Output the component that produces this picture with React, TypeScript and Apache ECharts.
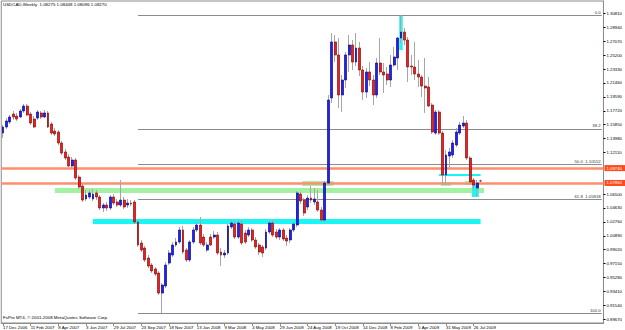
import React, { useEffect, useRef } from "react";
import * as echarts from "echarts";

// ---- weekly USDCAD candles (17 Dec 2006 .. 9 Aug 2009) ----
const opens = [
  1.1472, 1.1553, 1.1621, 1.1728, 1.1701, 1.1688, 1.1769, 1.1836, 1.1728, 1.1661,
  1.1674, 1.1742, 1.1688, 1.1742, 1.1594, 1.1499, 1.1486, 1.1338, 1.1217, 1.1149,
  1.1028, 1.1109, 1.0880, 1.0759, 1.0584, 1.0611, 1.0584, 1.0665, 1.0611, 1.0463,
  1.0503, 1.0463, 1.0611, 1.0544, 1.0503, 1.0570, 1.0503, 1.0530, 1.0544, 1.0274,
  0.9992, 0.9924, 0.9790, 0.9695, 0.9642, 0.9588, 0.9318, 0.9413, 0.9722, 0.9830,
  0.9965, 1.0005, 1.0167, 0.9897, 0.9763, 1.0005, 1.0167, 1.0234, 1.0072, 0.9897,
  1.0072, 1.0072, 1.0099, 0.9870, 0.9830, 0.9857, 1.0207, 1.0247, 1.0072, 1.0247,
  1.0126, 1.0099, 1.0167, 1.0032, 0.9965, 0.9938, 0.9924, 1.0140, 1.0261, 1.0140,
  1.0072, 1.0167, 1.0059, 1.0032, 1.0167, 1.0234, 1.0651, 1.0570, 1.0476, 1.0597,
  1.0544, 1.0544, 1.0436, 1.0301, 1.0799, 1.1944, 1.2698, 1.2523, 1.1984, 1.2186,
  1.2523, 1.2657, 1.2428, 1.2617, 1.2321, 1.2024, 1.2294, 1.2186, 1.1984, 1.2415,
  1.2294, 1.2267, 1.2186, 1.2388, 1.2482, 1.2751, 1.2832, 1.2724, 1.2374, 1.2361,
  1.2267, 1.2226, 1.2105, 1.2092, 1.1849, 1.1472, 1.1755, 1.1472, 1.0907, 1.1163,
  1.1176, 1.1311, 1.1472, 1.1567, 1.1607, 1.1136, 1.0840, 1.0732, 1.08275,
];
const highs = [
  1.1580, 1.1674, 1.1715, 1.1769, 1.1742, 1.1796, 1.1863, 1.1863, 1.1755, 1.1701,
  1.1782, 1.1769, 1.1782, 1.1769, 1.1621, 1.1540, 1.1513, 1.1365, 1.1257, 1.1190,
  1.1149, 1.1136, 1.0907, 1.0786, 1.0705, 1.0705, 1.0719, 1.0705, 1.0638, 1.0530,
  1.0544, 1.0638, 1.0651, 1.0584, 1.0840, 1.0611, 1.0584, 1.0570, 1.0570, 1.0301,
  1.0032, 0.9951, 0.9830, 0.9722, 0.9668, 0.9615, 0.9453, 0.9736, 0.9897, 1.0005,
  1.0059, 1.0207, 1.0220, 0.9924, 1.0032, 1.0207, 1.0274, 1.0342, 1.0113, 1.0005,
  1.0113, 1.0153, 1.0140, 0.9924, 0.9897, 1.0247, 1.0301, 1.0288, 1.0301, 1.0288,
  1.0167, 1.0207, 1.0193, 1.0072, 0.9992, 0.9965, 1.0180, 1.0288, 1.0301, 1.0180,
  1.0193, 1.0193, 1.0099, 1.0193, 1.0274, 1.0692, 1.0678, 1.0597, 1.0638, 1.0759,
  1.0732, 1.0705, 1.0476, 1.0826, 1.1984, 1.2819, 1.2792, 1.2751, 1.2253, 1.2563,
  1.2792, 1.2724, 1.2819, 1.2698, 1.2374, 1.2348, 1.2428, 1.2253, 1.2482, 1.2751,
  1.2415, 1.2361, 1.2523, 1.2630, 1.2765, 1.3061, 1.2886, 1.2765, 1.2523, 1.2698,
  1.2455, 1.2253, 1.2482, 1.2226, 1.1876, 1.1782, 1.1782, 1.1499, 1.1244, 1.1271,
  1.1378, 1.1540, 1.1621, 1.1701, 1.1647, 1.1163, 1.0867, 1.0840, 1.08448,
];
const lows = [
  1.1405, 1.1526, 1.1594, 1.1647, 1.1634, 1.1674, 1.1742, 1.1701, 1.1580, 1.1540,
  1.1647, 1.1661, 1.1674, 1.1540, 1.1446, 1.1432, 1.1311, 1.1176, 1.1109, 1.1015,
  1.1001, 1.0840, 1.0719, 1.0544, 1.0557, 1.0584, 1.0557, 1.0570, 1.0436, 1.0409,
  1.0422, 1.0436, 1.0503, 1.0476, 1.0476, 1.0449, 1.0463, 1.0490, 1.0247, 0.9938,
  0.9870, 0.9736, 0.9655, 0.9588, 0.9547, 0.9291, 0.9049, 0.9386, 0.9695, 0.9803,
  0.9938, 0.9978, 0.9843, 0.9736, 0.9736, 0.9978, 1.0140, 0.9965, 0.9938, 0.9870,
  0.9951, 1.0045, 0.9830, 0.9682, 0.9790, 0.9830, 1.0180, 1.0045, 1.0045, 0.9965,
  0.9978, 1.0072, 1.0005, 0.9911, 0.9830, 0.9803, 0.9897, 1.0113, 1.0072, 1.0045,
  1.0032, 1.0018, 0.9951, 0.9992, 1.0140, 1.0207, 1.0517, 1.0355, 1.0436, 1.0530,
  1.0503, 1.0409, 1.0274, 1.0274, 1.0772, 1.1876, 1.2428, 1.1809, 1.1755, 1.2078,
  1.2294, 1.2321, 1.2374, 1.2240, 1.1917, 1.1944, 1.2105, 1.1849, 1.1944, 1.2253,
  1.2011, 1.2119, 1.2092, 1.2361, 1.2321, 1.2684, 1.2657, 1.2159, 1.2253, 1.2186,
  1.2092, 1.1957, 1.1742, 1.1822, 1.1459, 1.1446, 1.1446, 1.0772, 1.0772, 1.1001,
  1.1136, 1.1284, 1.1446, 1.1540, 1.1109, 1.0786, 1.0705, 1.0624, 1.08096,
];
const closes = [
  1.1553, 1.1634, 1.1688, 1.1688, 1.1661, 1.1769, 1.1836, 1.1715, 1.1607, 1.1553,
  1.1755, 1.1688, 1.1742, 1.1553, 1.1472, 1.1459, 1.1338, 1.1203, 1.1136, 1.1028,
  1.1109, 1.0867, 1.0745, 1.0570, 1.0638, 1.0665, 1.0651, 1.0611, 1.0463, 1.0503,
  1.0463, 1.0611, 1.0530, 1.0503, 1.0570, 1.0476, 1.0530, 1.0517, 1.0274, 0.9965,
  0.9897, 0.9763, 0.9682, 0.9615, 0.9574, 0.9318, 0.9426, 0.9695, 0.9857, 0.9965,
  1.0005, 1.0167, 0.9870, 0.9763, 1.0005, 1.0167, 1.0234, 0.9992, 0.9965, 0.9965,
  0.9965, 1.0099, 0.9857, 0.9830, 0.9857, 1.0220, 1.0261, 1.0072, 1.0261, 0.9992,
  1.0005, 1.0167, 1.0032, 0.9938, 0.9870, 0.9857, 1.0140, 1.0261, 1.0099, 1.0072,
  1.0167, 1.0045, 1.0018, 1.0167, 1.0247, 1.0665, 1.0557, 1.0395, 1.0597, 1.0570,
  1.0584, 1.0436, 1.0301, 1.0799, 1.1917, 1.2698, 1.2523, 1.1984, 1.2186, 1.2523,
  1.2657, 1.2428, 1.2617, 1.2321, 1.2024, 1.2294, 1.2186, 1.1984, 1.2415, 1.2294,
  1.2253, 1.2186, 1.2388, 1.2496, 1.2751, 1.2832, 1.2724, 1.2361, 1.2361, 1.2267,
  1.2226, 1.2105, 1.2078, 1.1836, 1.1486, 1.1755, 1.1472, 1.0907, 1.1176, 1.1217,
  1.1338, 1.1486, 1.1580, 1.1607, 1.1136, 1.0813, 1.0772, 1.0799, 1.08270,
];

// ---- axes ----
const slotCount = 174; // data weeks + chart shift
const firstWeekUTC = Date.UTC(2006, 11, 17);
const categories = Array.from({ length: slotCount }, (_, i) =>
  new Date(firstWeekUTC + i * 7 * 86400000).toISOString().slice(0, 10)
);
const xTickLabels = [
  "17 Dec 2006", "11 Feb 2007", "8 Apr 2007", "3 Jun 2007", "29 Jul 2007",
  "23 Sep 2007", "18 Nov 2007", "13 Jan 2008", "9 Mar 2008", "4 May 2008",
  "29 Jun 2008", "24 Aug 2008", "19 Oct 2008", "14 Dec 2008", "8 Feb 2009",
  "5 Apr 2009", "31 May 2009", "26 Jul 2009",
];
const xTickEvery = 8;
// price-scale labels that are visible (the two hidden behind the line labels are left out)
const yTickLabels = [
  "1.30810", "1.28940", "1.27070", "1.25200", "1.23330", "1.21460", "1.19590",
  "1.17720", "1.15850", "1.13980", "1.12110", "1.06500",
  "1.04630", "1.02760", "1.00890", "0.99020", "0.97150", "0.95280", "0.93410",
  "0.91540", "0.89670",
];
const yMin = 0.89148;
const yMax = 1.32495;

// ---- objects drawn on the chart ----
const fibHigh = 1.3061;
const fibLow = 0.90494;
const fibLevels = [0, 38.2, 50, 61.8, 100];
const fibTexts = ["0.0", "38.2", "50.0  1.10552", "61.8  1.05818", "100.0"];
const fibStartIdx = 39;

const orangeLevels = [1.0974, 1.0786];
const orangeTexts = ["1.09740", "1.07860"];

// [startIndex, endIndex, price]
const greenBand = [15, 139, 1.0705];
const cyanBand = [26, 138, 1.0281];
const cyanShort = [126, 138, 1.0907];

// [startIndex, endIndex, topPrice, bottomPrice]
const greenBoxes = [
  [87, 95, 1.0826, 1.0759],
  [127, 129, 1.0813, 1.0759],
  [134, 135, 1.0826, 1.0772],
];
const cyanBoxes = [
  [115, 115, 1.3061, 1.259],
  [136, 137, 1.0786, 1.0611],
];

const FONT = "'Liberation Sans', Arial, sans-serif";

function boxRenderer(fill: string) {
  return (_params: any, api: any) => {
    const a = api.coord([api.value(0), api.value(2)]);
    const b = api.coord([api.value(1), api.value(3)]);
    const bw = api.size([1, 0])[0];
    return {
      type: "rect",
      shape: { x: a[0] - bw / 2, y: a[1], width: b[0] - a[0] + bw, height: b[1] - a[1] },
      style: { fill },
    };
  };
}

function segment(obj: number[], color: string, width: number) {
  return [
    { coord: [categories[obj[0]], obj[2]], lineStyle: { color, width, type: "solid" } },
    { coord: [categories[obj[1]], obj[2]] },
  ];
}

function buildOption() {
  const wickData = opens.map((o, i) => [o, closes[i], lows[i], highs[i]]);
  const bodyData = opens.map((o, i) => [
    o,
    closes[i],
    Math.min(o, closes[i]),
    Math.max(o, closes[i]),
  ]);

  const fibLines = fibLevels.map((lv, k) => {
    const price = fibHigh - (fibHigh - fibLow) * (lv / 100);
    return [
      {
        coord: [categories[fibStartIdx], price],
        lineStyle: { color: "#8c8c8c", width: 1, type: "solid" },
        label: {
          show: true,
          position: "insideEndTop",
          formatter: fibTexts[k],
          fontSize: 4.3,
          color: "#333",
          fontFamily: FONT,
          distance: 1,
        },
      },
      { coord: [categories[slotCount - 1], price] },
    ];
  });

  const priceLabel = (text: string, bg: string) => ({
    show: true,
    position: "end",
    formatter: text,
    backgroundColor: bg,
    color: "#fff",
    fontSize: 4.3,
    fontFamily: FONT,
    padding: [1, 3, 1, 2],
    distance: 1,
  });

  const showTick = (i: number) => i % xTickEvery === 0 && i / xTickEvery < xTickLabels.length;

  return {
    animation: false,
    backgroundColor: "#ffffff",
    textStyle: { fontFamily: FONT },
    grid: {
      left: 1,
      right: 17,
      top: 1,
      bottom: 7,
      show: true,
      borderColor: "#8c8c8c",
      borderWidth: 1,
      backgroundColor: "#ffffff",
    },
    xAxis: {
      type: "category",
      data: categories,
      boundaryGap: true,
      axisLine: { show: true, lineStyle: { color: "#8c8c8c", width: 1 } },
      axisTick: {
        show: true,
        alignWithLabel: true,
        interval: showTick,
        length: 3,
        lineStyle: { color: "#8c8c8c" },
      },
      axisLabel: {
        interval: showTick,
        formatter: (_v: string, i: number) => xTickLabels[i / xTickEvery] ?? "",
        align: "left",
        fontSize: 4.3,
        color: "#000",
        margin: 2,
        fontFamily: FONT,
      },
      splitLine: { show: false },
    },
    yAxis: {
      type: "value",
      position: "right",
      min: yMin,
      max: yMax,
      scale: true,
      splitLine: { show: false },
      axisLine: { show: true, lineStyle: { color: "#8c8c8c", width: 1 } },
      axisTick: {
        show: true,
        length: 2,
        customValues: yTickLabels.map(Number),
        lineStyle: { color: "#000" },
      },
      axisLabel: {
        show: true,
        customValues: yTickLabels.map(Number),
        formatter: (v: number) => v.toFixed(5),
        fontSize: 4.3,
        color: "#000",
        margin: 3,
        fontFamily: FONT,
      },
    },
    graphic: [
      {
        type: "text",
        left: 3,
        top: 2,
        z: 50,
        style: {
          text: "USDCAD,Weekly  1.08275 1.08448 1.08096 1.08270",
          fontSize: 4.4,
          fill: "#000",
          fontFamily: FONT,
        },
      },
      {
        type: "text",
        left: 3,
        top: 315,
        z: 50,
        style: {
          text: "FxPro MT4, © 2001-2008 MetaQuotes Software Corp.",
          fontSize: 4.4,
          fill: "#000",
          fontFamily: FONT,
        },
      },
    ],
    series: [
      {
        name: "bands",
        type: "line",
        data: [],
        z: 1,
        silent: true,
        markLine: {
          z: 1,
          silent: true,
          symbol: ["none", "none"],
          label: { show: false },
          data: [
            segment(greenBand, "#a3f2a3", 5),
            segment(cyanBand, "#1cf5f5", 5),
            segment(cyanShort, "#1cf5f5", 2),
          ],
        },
      },
      {
        name: "greenBoxes",
        type: "custom",
        z: 2,
        silent: true,
        encode: { x: 0, y: 2 },
        renderItem: boxRenderer("#a8eea8"),
        data: greenBoxes,
      },
      {
        name: "cyanBoxes",
        type: "custom",
        z: 2,
        silent: true,
        encode: { x: 0, y: 2 },
        renderItem: boxRenderer("#2af2f2"),
        data: cyanBoxes,
      },
      {
        name: "levels",
        type: "line",
        data: [],
        z: 3,
        silent: true,
        markLine: {
          z: 3,
          silent: true,
          symbol: ["none", "none"],
          label: { show: false },
          data: [
            ...fibLines,
            ...orangeLevels.map((p, k) => ({
              yAxis: p,
              lineStyle: { color: "#ff8e6e", width: 2.5, type: "solid" },
              label: priceLabel(orangeTexts[k], "#ff4a1c"),
            })),
          ],
        },
      },
      {
        name: "wicks",
        type: "candlestick",
        z: 4,
        silent: true,
        barWidth: 0.01,
        data: wickData,
        itemStyle: {
          color: "#a6a6a6",
          color0: "#a6a6a6",
          borderColor: "#a6a6a6",
          borderColor0: "#a6a6a6",
          borderColorDoji: "#a6a6a6",
          borderWidth: 1,
        },
      },
      {
        name: "bodies",
        type: "candlestick",
        z: 5,
        silent: true,
        barWidth: 2.4,
        data: bodyData,
        itemStyle: {
          color: "#1f1fff",
          color0: "#f51c1c",
          borderColor: "#0c0c8c",
          borderColor0: "#8c0b0b",
          borderColorDoji: "#8c0b0b",
          borderWidth: 0.7,
        },
      },
    ],
  };
}

export default function App() {
  const ref = useRef<HTMLDivElement>(null);
  useEffect(() => {
    if (!ref.current) return;
    const chart = echarts.init(ref.current, null, { renderer: "svg" });
    chart.setOption(buildOption() as any);
    return () => chart.dispose();
  }, []);
  return (
    <div
      ref={ref}
      style={{ position: "fixed", left: 0, top: 0, width: 625, height: 330, background: "#fff" }}
    />
  );
}
